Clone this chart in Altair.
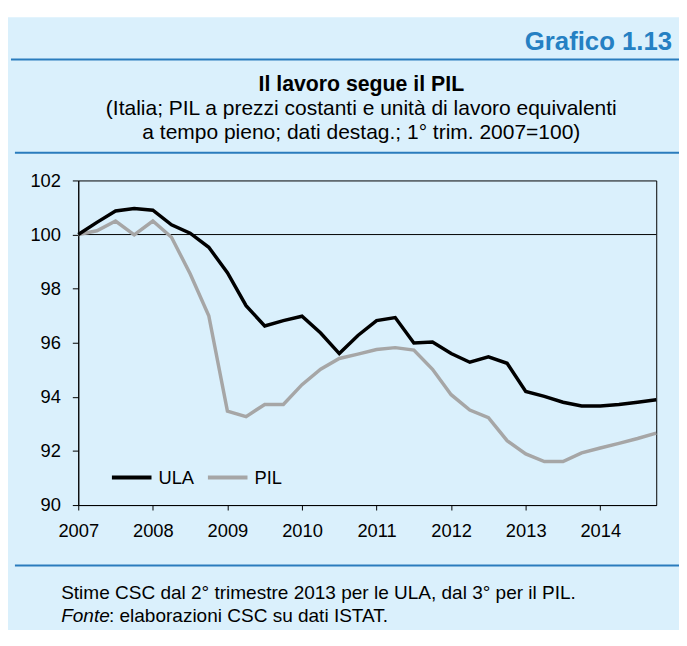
import altair as alt
import pandas as pd

# ---- data ----
YEARS = [2007, 2008, 2009, 2010, 2011, 2012, 2013, 2014]
QUARTERS = [1, 2, 3, 4]
ULA = [100.0, 100.45, 100.87, 100.96,
       100.90, 100.36, 100.05, 99.53,
       98.59, 97.37, 96.62, 96.82,
       96.98, 96.36, 95.60, 96.27,
       96.82, 96.93, 95.99, 96.03,
       95.60, 95.28, 95.48, 95.24,
       94.20, 94.02, 93.80, 93.66,
       93.66, 93.72, 93.80, 93.89]
PIL = [100.0, 100.14, 100.50, 99.99,
       100.50, 99.90, 98.55, 97.00,
       93.47, 93.27, 93.72, 93.72,
       94.45, 95.02, 95.42, 95.58,
       95.75, 95.82, 95.73, 95.02,
       94.08, 93.51, 93.23, 92.38,
       91.89, 91.61, 91.61, 91.93,
       92.11, 92.28, 92.46, 92.66]
SERIES = ["ULA", "PIL"]
Y_TICKS = [90, 92, 94, 96, 98, 100, 102]
REF_LINE = [100]

HEADER = "Grafico 1.13"
TITLE = "Il lavoro segue il PIL"
SUB1 = "(Italia; PIL a prezzi costanti e unità di lavoro equivalenti"
SUB2 = "a tempo pieno; dati destag.; 1° trim. 2007=100)"
NOTE1 = "Stime CSC dal 2° trimestre 2013 per le ULA, dal 3° per il PIL."
NOTE2_IT = "Fonte"
NOTE2 = ": elaborazioni CSC su dati ISTAT."

# ---- tables ----
xs = [y + (q - 1) / 4 for y in YEARS for q in QUARTERS]
rows = []
for name, vals in (("PIL", PIL), ("ULA", ULA)):
    for x, v in zip(xs, vals):
        rows.append({"t": x, "v": v, "serie": name})
df = pd.DataFrame(rows)

FONT = "Liberation Sans"
BG = "#daf0fc"
BLUE = "#2a7cbd"
W, H = 584, 328
one = alt.Data(values=[{"k": 0}])

def text_layer(txt, x, y, size, align="center", weight="normal", style="normal", color="black"):
    return alt.Chart(alt.Data(values=[{"s": txt}])).mark_text(
        font=FONT, fontSize=size, align=align, baseline="alphabetic",
        fontWeight=weight, fontStyle=style, color=color
    ).encode(text="s:N", x=alt.value(x), y=alt.value(y))

def hline(x1, x2, y, color=BLUE, width=2):
    return alt.Chart(one).mark_rule(color=color, strokeWidth=width).encode(
        x=alt.value(x1), x2=alt.value(x2), y=alt.value(y))

strip = alt.Chart(one).mark_rect(color="white", strokeWidth=0).encode(
    x=alt.value(-80), x2=alt.value(620), y=alt.value(-185), y2=alt.value(-165))

ref = alt.Chart(pd.DataFrame({"r": REF_LINE})).mark_rule(color="black", strokeWidth=1).encode(
    y=alt.Y("r:Q"))

lines = alt.Chart(df).mark_line(strokeWidth=3.5, strokeJoin="miter").encode(
    x=alt.X("t:Q", scale=alt.Scale(domain=[2007, 2014.75], nice=False, zero=False),
            axis=alt.Axis(values=YEARS, format="d", tickSize=5, labelPadding=12,
                          labelFlush=False, labelOverlap=False,
                          title=None, grid=False)),
    y=alt.Y("v:Q", scale=alt.Scale(domain=[90, 102], nice=False, zero=False),
            axis=alt.Axis(values=Y_TICKS, tickSize=6, labelPadding=12,
                          labelFlush=False, labelOverlap=False,
                          title=None, grid=False)),
    color=alt.Color("serie:N", scale=alt.Scale(domain=SERIES, range=["#000000", "#a6a6a6"]),
                    legend=alt.Legend(orient="none", legendX=32, legendY=278,
                                      direction="horizontal", title=None,
                                      symbolType="stroke", symbolSize=1600,
                                      symbolStrokeWidth=4, labelFontSize=18.5,
                                      labelFont=FONT, labelOffset=5,
                                      columnPadding=6, padding=0,
                                      labelColor="black")),
    detail="serie:N",
)

chart = alt.layer(
    strip,
    hline(-68, 610, -122.3),
    hline(-64, 610, -28),
    hline(-64, 610, 389),
    text_layer(HEADER, 600, -132.3, 26, align="right", weight="bold", color="#2580c3"),
    text_layer(TITLE, 286, -90.7, 21.5, weight="bold"),
    text_layer(SUB1, 286, -66.3, 21.2),
    text_layer(SUB2, 286, -42.3, 21.2),
    text_layer(NOTE1, -17.3, 422.7, 19.2, align="left"),
    text_layer(NOTE2_IT, -17.3, 446, 19.2, align="left", style="italic"),
    text_layer(NOTE2, 31, 446, 19.2, align="left"),
    ref,
    lines,
).properties(
    width=W, height=H,
    padding={"left": 71, "top": 171, "right": 23, "bottom": 123},
    autosize=alt.AutoSizeParams(type="none"),
    background=BG,
).configure_view(
    stroke="black", strokeWidth=1
).configure_axis(
    labelFont=FONT, labelFontSize=18.5, labelColor="black",
    domainColor="black", tickColor="black", domainWidth=1, tickWidth=1,
)

chart.save("out.html", embed_options={"renderer": "svg", "actions": False})
